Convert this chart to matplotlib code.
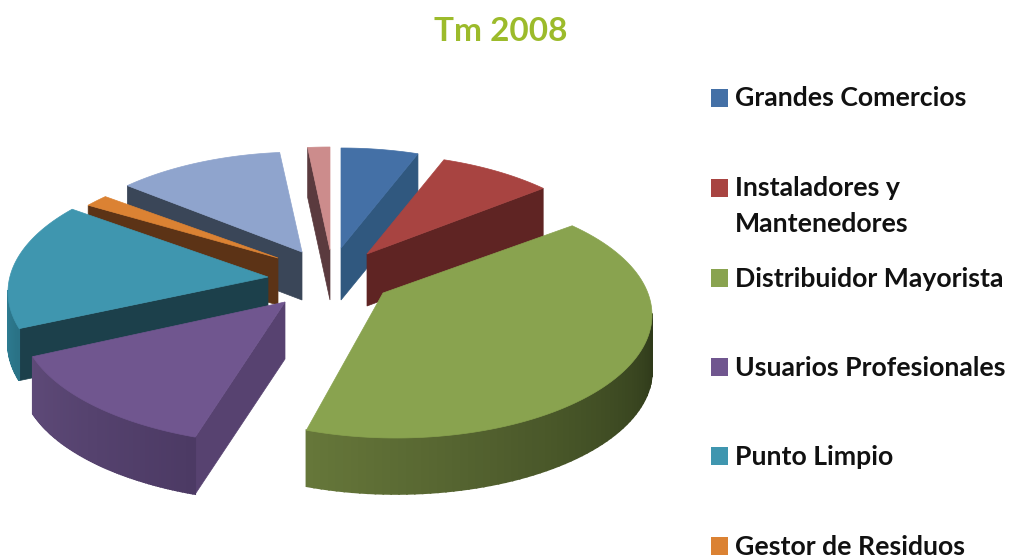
import numpy as np
import matplotlib
matplotlib.use("Agg")
import matplotlib.pyplot as plt
from matplotlib.colors import to_rgb
from matplotlib.patches import Rectangle

# ---- data (shares; the last two slices have no visible legend entry) ----
title = "Tm 2008"
legend_labels = ["Grandes Comercios", "Instaladores y\nMantenedores", "Distribuidor Mayorista",
                 "Usuarios Profesionales", "Punto Limpio", "Gestor de Residuos"]
values = [4.86, 7.22, 43.61, 14.58, 16.25, 1.53, 10.56, 1.39]

# ---- styling and layout ----
top_colors = ["#4470A6", "#A84441", "#89A34F", "#70568F", "#3F96AF", "#DB8233", "#8FA4CD", "#CC8C8C"]
cut_colors = ["#30587F", "#5F2423", "#5B6A33", "#574270", "#1C404B", "#5C3316", "#3A4658", "#5A3A3E"]
wall_left = ["#30587F", "#6A2A28", "#66773A", "#5E4A78", "#2F7F96", "#7A4418", "#3A4658", "#5A3A3E"]
wall_right = ["#2A4D70", "#5F2423", "#2F3A1A", "#4C3A64", "#2A7286", "#5C3316", "#3A4658", "#5A3A3E"]
centers = [(341, 273), (367, 279), (396, 315), (289, 320), (264, 292), (280, 288), (302, 277), (330, 272)]
apexes = [(341, 248), (367, 254), (383, 293), (285, 302), (268, 277), (278, 258), (302, 252), (330, 250)]
depths = [52, 52, 56, 57, 52, 47, 48, 50]
radii_x = [256, 256, 256, 268, 256, 256, 256, 256]
radii_y = [125, 125, 123, 125, 125, 125, 125, 125]
paint_order = [7, 0, 1, 6, 5, 4, 3, 2]

swatch_y = [98, 188, 278, 367, 456, 546]
baselines = [106, 196, 287, 376, 465, 555]
LINE_GAP = 36

fig = plt.figure(figsize=(10.10, 5.59), dpi=100, facecolor="white")
ax = fig.add_axes([0, 0, 1, 1])
ax.set_xlim(0, 1010)
ax.set_ylim(559, 0)
ax.axis("off")

edges = np.cumsum([0] + values) / np.sum(values) * 2 * np.pi

for i in paint_order:
    c, a, d = centers[i], apexes[i], depths[i]
    ts = np.linspace(edges[i], edges[i + 1], 90)
    xs = c[0] + radii_x[i] * np.sin(ts)
    ys = c[1] - radii_y[i] * np.cos(ts)
    mid = np.array([xs[45], ys[45]])

    # flat cut faces: only those turned towards the viewer
    for ex, ey in ((xs[0], ys[0]), (xs[-1], ys[-1])):
        edge = np.array([ex - a[0], ey - a[1]])
        normal = np.array([-edge[1], edge[0]])
        if normal @ (mid - np.array(a)) > 0:
            normal = -normal
        if normal[1] > 0:
            ax.fill([a[0], ex, ex, a[0]], [a[1], ey, ey + d, a[1] + d],
                    color=cut_colors[i], lw=0.5)

    # curved outer wall, front half only, shaded from left to right
    front = np.cos(ts) < 0.02
    if front.sum() > 1:
        order = np.argsort(xs[front])
        fx, fy = xs[front][order], ys[front][order]
        c0, c1 = np.array(to_rgb(wall_left[i])), np.array(to_rgb(wall_right[i]))
        n = len(fx) - 1
        for k in range(n):
            shade = c0 + (c1 - c0) * k / max(n - 1, 1)
            ax.fill([fx[k], fx[k + 1], fx[k + 1], fx[k]],
                    [fy[k], fy[k + 1], fy[k + 1] + d, fy[k] + d],
                    color=shade, lw=1.2)

    # top surface
    ax.fill(np.r_[a[0], xs], np.r_[a[1], ys], color=top_colors[i], lw=0.5)

# title
ax.text(501, 41, title, color="#9CBB2B", fontsize=24, fontweight="bold",
        family="Lato", ha="center", va="baseline")

# legend
for i, label in enumerate(legend_labels):
    ax.add_patch(Rectangle((711, swatch_y[i] - 9), 17, 18, color=top_colors[i], lw=0))
    for j, line in enumerate(label.split("\n")):
        ax.text(735, baselines[i] + LINE_GAP * j, line, color="#111111", fontsize=19.2,
                fontweight="bold", family="Lato", ha="left", va="baseline")

fig.savefig("out.png", dpi=100, facecolor="white")
